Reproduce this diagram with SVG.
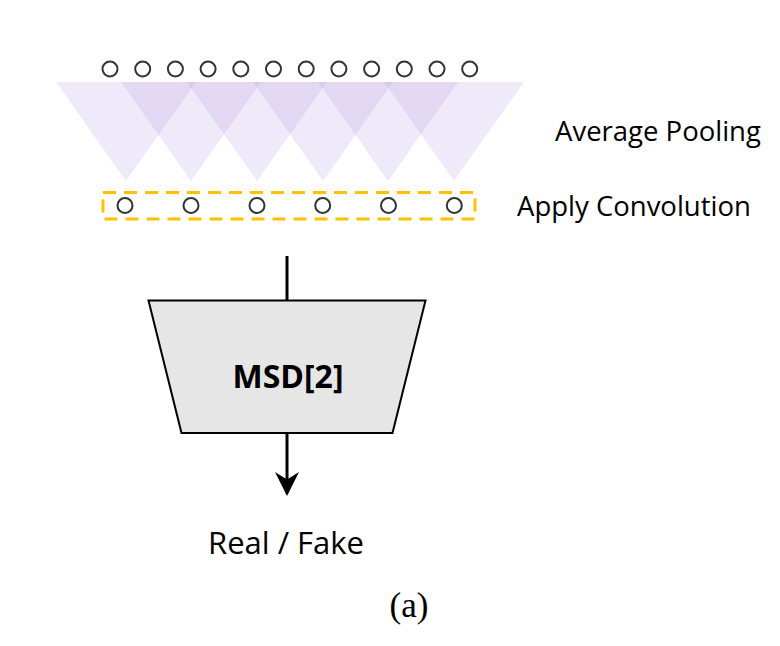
<svg xmlns="http://www.w3.org/2000/svg" width="780" height="646" viewBox="0 0 780 646">
<style>
.tri{fill:#a78bdb;fill-opacity:0.18}
.dot{fill:#ffffff;stroke:#333333;stroke-width:2}
.lbl{font-family:"Open Sans","Liberation Sans",sans-serif;font-size:27.5px;fill:#000000}
.conn{stroke:#000000;stroke-width:3;fill:none}
</style>
<defs>
<marker id="arr" markerWidth="8" markerHeight="8" refX="7" refY="4" orient="auto" markerUnits="strokeWidth">
<path d="M0,0 L8,4 L0,8 L2.5,4 Z" fill="#000000"/>
</marker>
</defs>
<rect width="780" height="646" fill="#ffffff"/>
<g id="pooling">
<polygon class="tri" points="56,82 196,82 126,181"/>
<polygon class="tri" points="121,82 261,82 191,181"/>
<polygon class="tri" points="187,82 327,82 257,181"/>
<polygon class="tri" points="253,82 393,82 323,181"/>
<polygon class="tri" points="318,82 458,82 388,181"/>
<polygon class="tri" points="384,82 524,82 454,181"/>
</g>
<g id="input-row">
<circle class="dot" cx="110" cy="69" r="7.5"/>
<circle class="dot" cx="142.7" cy="69" r="7.5"/>
<circle class="dot" cx="175.4" cy="69" r="7.5"/>
<circle class="dot" cx="208.1" cy="69" r="7.5"/>
<circle class="dot" cx="240.8" cy="69" r="7.5"/>
<circle class="dot" cx="273.5" cy="69" r="7.5"/>
<circle class="dot" cx="306.2" cy="69" r="7.5"/>
<circle class="dot" cx="338.9" cy="69" r="7.5"/>
<circle class="dot" cx="371.6" cy="69" r="7.5"/>
<circle class="dot" cx="404.3" cy="69" r="7.5"/>
<circle class="dot" cx="437" cy="69" r="7.5"/>
<circle class="dot" cx="469.7" cy="69" r="7.5"/>
</g>
<g id="conv-row">
<rect x="103" y="192.5" width="372" height="26.5" fill="none" stroke="#ffc000" stroke-width="3" stroke-dasharray="13,8"/>
<circle class="dot" cx="125" cy="205.5" r="7.5"/>
<circle class="dot" cx="191" cy="205.5" r="7.5"/>
<circle class="dot" cx="257" cy="205.5" r="7.5"/>
<circle class="dot" cx="322.7" cy="205.5" r="7.5"/>
<circle class="dot" cx="388.5" cy="205.5" r="7.5"/>
<circle class="dot" cx="454.3" cy="205.5" r="7.5"/>
</g>
<g id="labels">
<text class="lbl" x="555" y="141">Average Pooling</text>
<text class="lbl" x="517" y="216">Apply Convolution</text>
</g>
<g id="connectors">
<line class="conn" x1="287" y1="256" x2="287" y2="301"/>
<line class="conn" x1="287" y1="433" x2="287" y2="493" marker-end="url(#arr)"/>
</g>
<g id="msd">
<polygon points="148.5,300.5 425.5,300.5 392.5,433 181.5,433" fill="#e6e6e6" stroke="#000000" stroke-width="2"/>
<text x="288" y="388" text-anchor="middle" font-family="'Open Sans','Liberation Sans',sans-serif" font-size="32" font-weight="bold" fill="#000000">MSD[2]</text>
</g>
<g id="output">
<text class="lbl" x="208" y="554" font-size="31" style="font-size:31px">Real / Fake</text>
</g>
<text x="409" y="617" text-anchor="middle" font-family="'Liberation Serif',serif" font-size="35" fill="#000000">(a)</text>
</svg>
